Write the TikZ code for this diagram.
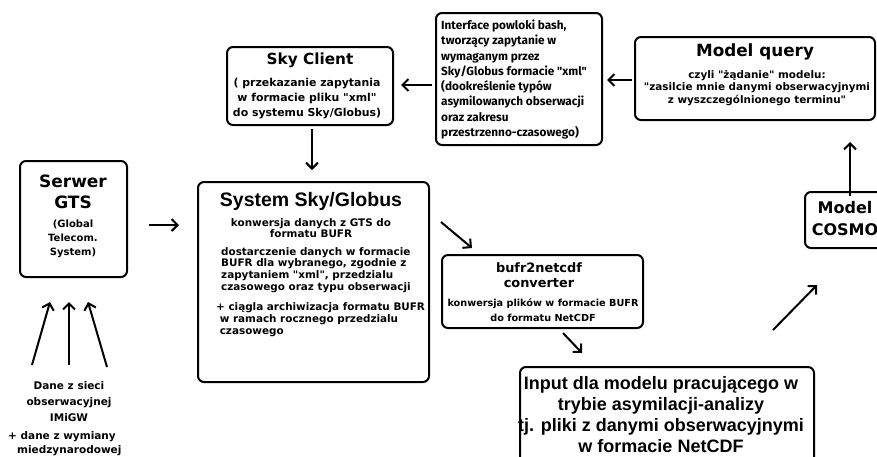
\documentclass[tikz,border=0pt]{standalone}
\usepackage{fontspec}
\setmainfont{DejaVu Sans}[Ligatures=TeXOff]
\newfontfamily\arialf{Liberation Sans}[Ligatures=TeXOff]
\newfontfamily\firaf{Fira Sans}[Ligatures=TeXOff]
\usetikzlibrary{arrows.meta}
\begin{document}
\begin{tikzpicture}[x=1pt,y=-1pt,
  box/.style={draw, line width=2pt, rounded corners=6pt, inner sep=0pt, fill=white},
  arr/.style={line width=2pt, -{Straight Barb[length=6pt,width=12pt]}},
  fs/.style 2 args={inner sep=0pt, font=\bfseries\fontsize{#1}{#2}\selectfont},
  afs/.style 2 args={inner sep=0pt, font=\arialf\bfseries\fontsize{#1}{#2}\selectfont},
  ffs/.style 2 args={inner sep=0pt, font=\firaf\bfseries\fontsize{#1}{#2}\selectfont}]
\useasboundingbox (0,0) rectangle (877,456);
\clip (0,0) rectangle (877,456);
\fill[white] (0,0) rectangle (877,456);

% boxes
\node[box, minimum width=107pt, minimum height=116pt] (gts) at (73.5,219) {};
\node[box, minimum width=231pt, minimum height=200pt] (sys) at (313.5,282) {};
\node[box, minimum width=166pt, minimum height=78pt] (client) at (310,86) {};
\node[box, minimum width=166pt, minimum height=132pt] (iface) at (519,79) {};
\node[box, minimum width=240pt, minimum height=83pt] (query) at (755,78.5) {};
\node[box, minimum width=80pt, minimum height=56pt] (cosmo) at (845,220) {};
\node[box, minimum width=201pt, minimum height=73pt] (bufr) at (542.5,291.5) {};
\node[box, minimum width=294pt, minimum height=103pt] (input) at (667,418.5) {};

% texts
\node[fs={17}{21}, align=center] (gtsT) at (73,192) {Serwer\\GTS};
\node[fs={10}{14}, align=center] (gtsS) at (73,239) {(Global\\Telecom.\\System)};

\node[afs={19.5}{22}] (sysT) at (311,201) {System Sky/Globus};
\node[fs={10.4}{11}, align=center] (sysA) at (311,228.5) {konwersja danych z GTS do\\formatu BUFR};
\node[fs={10.4}{11.7}, align=left, anchor=west] (sysB) at (221,270) {dostarczenie danych w formacie\\BUFR dla wybranego, zgodnie z\\zapytaniem "xml", przedzialu\\czasowego oraz typu obserwacji};
\node[fs={10.4}{11.7}, align=left, anchor=west] (sysC) at (216,319.5) {+ ciągla archiwizacja formatu BUFR\\\ w ramach rocznego przedzialu\\\ czasowego};

\node[fs={15.3}{18}] (clientT) at (310,60) {Sky Client};
\node[fs={10.9}{15}, align=center] (clientB) at (307,99) {( przekazanie zapytania\\w formacie pliku "xml"\\do systemu Sky/Globus)};

\node[ffs={11.8}{15.3}, align=left, anchor=west] (ifaceT) at (441,79.5) {Interface powloki bash,\\tworzący zapytanie w\\wymaganym przez\\Sky/Globus formacie "xml"\\(dookreślenie typów\\asymilowanych obserwacji\\oraz zakresu\\przestrzenno-czasowego)};

\node[fs={16.8}{20}] (queryT) at (755,52) {Model query};
\node[fs={10.4}{12.5}, align=center] (queryB) at (757,88) {czyli "żądanie" modelu:\\"zasilcie mnie danymi obserwacyjnymi\\z wyszczególnionego terminu"};

\node[fs={16}{22}, align=center] (cosmoT) at (845,219) {Model\\COSMO};

\node[fs={12.9}{15}, align=center] (bufrT) at (539,275) {bufr2netcdf\\converter};
\node[fs={9.7}{15}, align=center] (bufrB) at (543,310.5) {konwersja plików w formacie BUFR\\do formatu NetCDF};

\node[afs={18}{21}, align=center] (inputT) at (661,414.5) {Input dla modelu pracującego w\\trybie asymilacji-analizy\\tj. pliki z danymi obserwacyjnymi\\w formacie NetCDF};

\node[fs={10.5}{16}, align=center] (dane) at (69,402) {Dane z sieci\\obserwacyjnej\\IMiGW};
\node[fs={10.5}{15}, anchor=west] (dane2) at (8,437) {+ dane z wymiany};
\node[fs={10.5}{15}, anchor=west] (dane3) at (17,450.5) {miedzynarodowej};

% arrow end points
\coordinate (a1s) at (32,365); \coordinate (a1e) at (50,302);
\coordinate (a2s) at (69,365); \coordinate (a2e) at (69,302);
\coordinate (a3s) at (107,367); \coordinate (a3e) at (88,302);
\coordinate (g1) at (149,225); \coordinate (g2) at (179,225);
\coordinate (c1) at (312,129); \coordinate (c2) at (312,170);
\coordinate (i1) at (432,85); \coordinate (i2) at (401,85);
\coordinate (q1) at (632,80); \coordinate (q2) at (607,80);
\coordinate (s1) at (441,222); \coordinate (s2) at (472,248);
\coordinate (b1) at (563,333); \coordinate (b2) at (582,353);
\coordinate (n1) at (773,330); \coordinate (n2) at (817,285);
\coordinate (m1) at (850,196); \coordinate (m2) at (850,142);

\draw[arr] (a1s) -- (a1e);
\draw[arr] (a2s) -- (a2e);
\draw[arr] (a3s) -- (a3e);
\draw[arr] (g1) -- (g2);
\draw[arr] (c1) -- (c2);
\draw[arr] (i1) -- (i2);
\draw[arr] (q1) -- (q2);
\draw[arr] (s1) -- (s2);
\draw[arr] (b1) -- (b2);
\draw[arr] (n1) -- (n2);
\draw[arr] (m1) -- (m2);
\end{tikzpicture}
\end{document}
